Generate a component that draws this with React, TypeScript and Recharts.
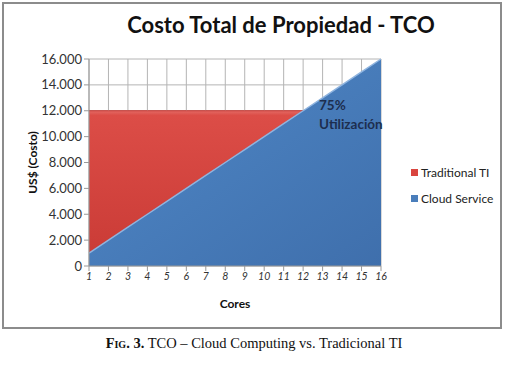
import { AreaChart, Area, XAxis, YAxis, CartesianGrid, Legend } from 'recharts'

// values
const cores = [1, 2, 3, 4, 5, 6, 7, 8, 9, 10, 11, 12, 13, 14, 15, 16]
const traditionalTI = [12000, 12000, 12000, 12000, 12000, 12000, 12000, 12000, 12000, 12000, 12000, 12000, 12000, 12000, 12000, 12000]
const cloudService = [1000, 2000, 3000, 4000, 5000, 6000, 7000, 8000, 9000, 10000, 11000, 12000, 13000, 14000, 15000, 16000]
const yTicks = [0, 2000, 4000, 6000, 8000, 10000, 12000, 14000, 16000]

const data = cores.map((c, i) => ({ core: c, trad: traditionalTI[i], cloud: cloudService[i] }))

const fmt = (v: number) => String(v).replace(/\B(?=(\d{3})+(?!\d))/g, '.')

const font = 'Lato, "Open Sans", sans-serif'

function LegendBox() {
  const items = [
    { name: 'Traditional TI', color: '#d9453f' },
    { name: 'Cloud Service', color: '#4a7ebb' },
  ]
  return (
    <div style={{ fontFamily: font, fontSize: 12, color: '#222' }}>
      {items.map((it) => (
        <div key={it.name} style={{ display: 'flex', alignItems: 'center', height: 26 }}>
          <span style={{ width: 7, height: 7, background: it.color, marginRight: 3, display: 'inline-block' }} />
          {it.name}
        </div>
      ))}
    </div>
  )
}

export default function App() {
  return (
    <div style={{ position: 'fixed', left: 0, top: 0, width: 508, height: 367, background: '#fff', overflow: 'hidden' }}>
      <div style={{ position: 'absolute', left: 0, top: 11, width: 562, textAlign: 'center', fontFamily: font, fontWeight: 700, fontSize: 22, color: '#111' }}>
        Costo Total de Propiedad - TCO
      </div>
      <div style={{ position: 'absolute', left: 0, top: 0 }}>
        <AreaChart
          width={508}
          height={367}
          data={data}
          margin={{ top: 59, right: 127, left: 27, bottom: 71 }}
        >
          <defs>
            <linearGradient id="redFill" x1="0" y1="0" x2="0" y2="1">
              <stop offset="0" stopColor="#e36a65" />
              <stop offset="0.03" stopColor="#dc4d47" />
              <stop offset="1" stopColor="#c93a35" />
            </linearGradient>
            <linearGradient id="blueFill" x1="0" y1="0" x2="1" y2="1">
              <stop offset="0" stopColor="#5089c8" />
              <stop offset="1" stopColor="#3f6fac" />
            </linearGradient>
          </defs>
          <CartesianGrid stroke="#b4b4b4" />
          <XAxis
            dataKey="core"
            tick={{ fontSize: 10.5, fill: '#333', fontStyle: 'italic', fontFamily: font }}
            tickLine={{ stroke: '#999' }}
            axisLine={{ stroke: '#999' }}
            tickSize={5}
            height={30}
            interval={0}
            label={{ value: 'Cores', position: 'insideBottom', offset: -12, fontSize: 12, fontWeight: 700, fill: '#111', fontFamily: font }}
          />
          <YAxis
            domain={[0, 16000]}
            ticks={yTicks}
            tickFormatter={fmt}
            tick={{ fontSize: 13, fill: '#333', fontFamily: font }}
            tickLine={{ stroke: '#999' }}
            axisLine={{ stroke: '#999' }}
            tickSize={5}
            width={62}
            label={{ value: 'US$ (Costo)', angle: -90, position: 'insideLeft', offset: -4, dx: 10, fontSize: 12, fontWeight: 700, fill: '#111', fontFamily: font, style: { textAnchor: 'middle' } }}
          />
          <Legend
            layout="vertical"
            verticalAlign="middle"
            align="center"
            wrapperStyle={{ left: 411, top: 159, width: 100 }}
            content={() => <LegendBox />}
          />
          <Area
            type="linear"
            dataKey="trad"
            name="Traditional TI"
            stroke="#c4352f"
            strokeWidth={1}
            fill="url(#redFill)"
            fillOpacity={1}
            isAnimationActive={false}
            dot={false}
            activeDot={false}
          />
          <Area
            type="linear"
            dataKey="cloud"
            name="Cloud Service"
            stroke="#8fb4df"
            strokeWidth={1.5}
            fill="url(#blueFill)"
            fillOpacity={1}
            isAnimationActive={false}
            dot={false}
            activeDot={false}
          />
        </AreaChart>
      </div>
      <div style={{ position: 'absolute', left: 319, top: 96, fontFamily: font, fontWeight: 700, fontSize: 13.5, lineHeight: '19px', color: '#1d2e4f' }}>
        75%<br />Utilización
      </div>
      <div style={{ position: 'absolute', left: 0, top: 335, width: 508, textAlign: 'center', fontFamily: '"Liberation Serif", "DejaVu Serif", serif', fontSize: 14.5, color: '#111' }}>
        <b style={{ fontVariant: 'small-caps' }}>Fig. 3.</b> TCO – Cloud Computing vs. Tradicional TI
      </div>
      <div style={{ position: 'absolute', left: 2, top: 2, width: 500, height: 327, boxSizing: 'border-box', border: '2px solid #8c8c8c', pointerEvents: 'none', zIndex: 5 }} />
    </div>
  )
}
